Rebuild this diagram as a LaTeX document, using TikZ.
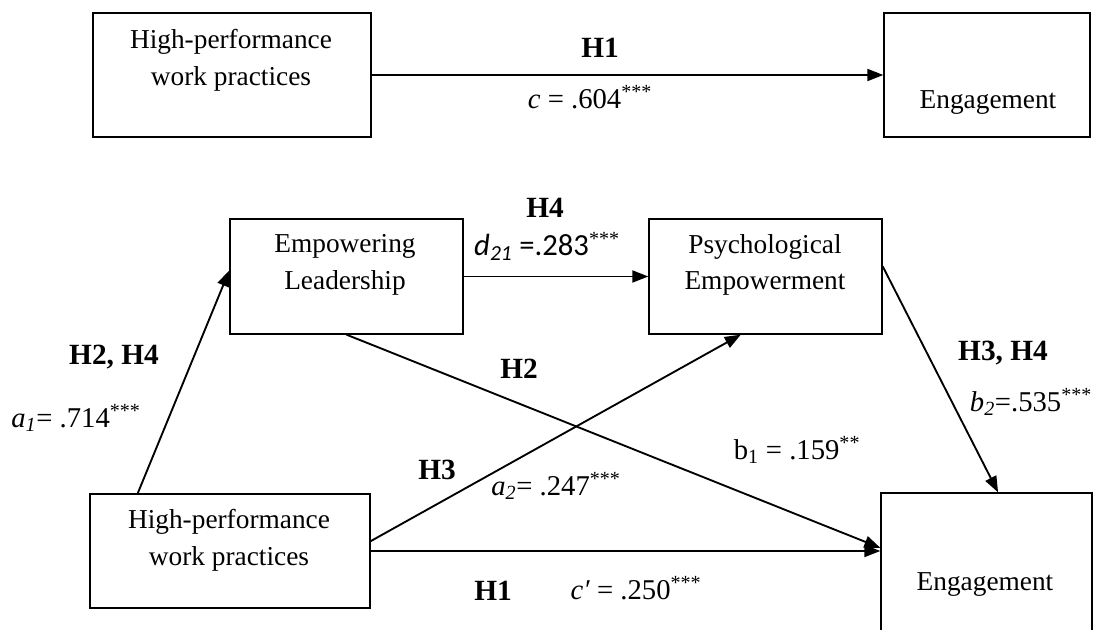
\documentclass[tikz,border=0pt]{standalone}
\usepackage{fontspec}
\setmainfont{Liberation Serif}
\newfontfamily\calfont{Carlito}
\usetikzlibrary{arrows.meta}

\begin{document}
\begin{tikzpicture}[x=0.75pt,y=0.75pt,yscale=-1,xscale=1,
  box/.style={draw,line width=1pt,inner sep=0pt},
  txt/.style={align=center,inner sep=0pt,font=\fontsize{20.5}{27.5}\selectfont},
  hyp/.style={inner sep=0pt,font=\fontsize{22}{26}\selectfont\bfseries},
  val/.style={inner sep=0pt,font=\fontsize{21.5}{25}\selectfont},
  arr/.style={line width=1.4pt,-{Triangle[length=12pt,width=9pt]}}]
\useasboundingbox (0,0) rectangle (1093,630);

%Top model: direct effect
\node[box,minimum width=208.5pt,minimum height=93pt] (hpwTop) at (232,75) {};
\node[box,minimum width=154.5pt,minimum height=93pt] (engTop) at (987,75) {};
\node[txt] (hpwTopText) at (231,60) {High-performance\\work practices};
\node[txt] (engTopText) at (988,103) {Engagement};
\draw[arr] (hpwTop) -- (engTop);
\node[hyp] (h1Top) at (600,48) {H1};
\node[val] (cTop) at (590,97) {\textit{c} = .604\textsuperscript{***}};

%Bottom model: serial mediation
\node[box,minimum width=174.75pt,minimum height=86.25pt] (empLead) at (346.5,276.5) {};
\node[box,minimum width=174.75pt,minimum height=86.25pt] (psyEmp) at (765.5,276.5) {};
\node[box,minimum width=210pt,minimum height=85.5pt] (hpwBot) at (230,551) {};
\node[box,minimum width=158.25pt,minimum height=140.25pt] (engBot) at (986.5,586.5) {};
\node[txt] (empLeadText) at (345,265) {Empowering\\Leadership};
\node[txt] (psyEmpText) at (765,265) {Psychological\\Empowerment};
\node[txt] (hpwBotText) at (229,540) {High-performance\\work practices};
\node[txt] (engBotText) at (985,585) {Engagement};

%Paths
\draw[arr] (hpwBot.148.5) -- (empLead.177);
\draw[arr] (empLead) -- (psyEmp);
\draw[arr] (empLead.south) -- (engBot.160);
\draw[arr] (hpwBot.4.5) -- (psyEmp.247);
\draw[arr] (hpwBot.east) -- (hpwBot.east -| engBot.west);
\draw[arr] (psyEmp.5.6) -- (engBot.83.6);

%Labels
\node[hyp] (h4) at (545,208) {H4};
\node[val] (d21) at (547,246) {{\calfont\fontsize{23}{26}\selectfont\textit{d\textsubscript{21}} =.283}\textsuperscript{***}};
\node[hyp] (h2h4) at (114,357) {H2, H4};
\node[val] (a1) at (76,418) {\textit{a\textsubscript{1}}= .714\textsuperscript{***}};
\node[hyp] (h2) at (519,369) {H2};
\node[hyp] (h3) at (437,470) {H3};
\node[val] (a2) at (556,486) {\textit{a\textsubscript{2}}= .247\textsuperscript{***}};
\node[val] (b1) at (797,450) {b\textsubscript{1} = .159\textsuperscript{**}};
\node[hyp] (h3h4) at (1003,353) {H3, H4};
\node[val] (b2) at (1031,402) {\textit{b\textsubscript{2}}=.535\textsuperscript{***}};
\node[hyp] (h1Bot) at (493,591) {H1};
\node[val] (cPrime) at (636,588) {\textit{c\char"2032} = .250\textsuperscript{***}};

\end{tikzpicture}
\end{document}
